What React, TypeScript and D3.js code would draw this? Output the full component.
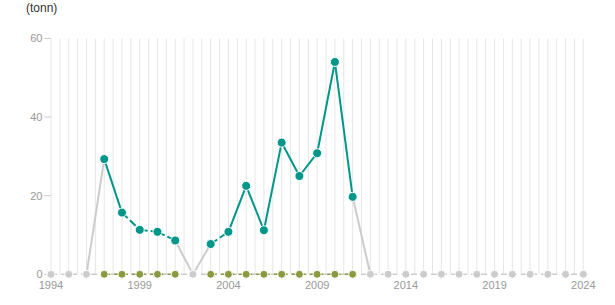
import React from "react";
import * as d3 from "d3";

const years: number[] = d3.range(1994, 2025);
// main (teal) series, null = no value (grey marker at 0)
const tealValues: (number | null)[] = [
  null, null, null, 29.3, 15.7, 11.3, 10.8, 8.6, null, 7.7,
  10.8, 22.5, 11.2, 33.5, 25.0, 30.8, 54.0, 19.7, null, null,
  null, null, null, null, null, null, null, null, null, null, null,
];
// segment i -> i+1 dashed
const dashedFrom: number[] = [1998, 1999, 2000, 2003];
// olive series at zero
const oliveValues: (number | null)[] = years.map((y, i) => (tealValues[i] !== null ? 0 : null));
const yTicks: number[] = [0, 20, 40, 60];
const xTickYears: number[] = [1994, 1999, 2004, 2009, 2014, 2019, 2024];

const W = 615, H = 305;
const TEAL = "#00968a";
const OLIVE = "#8a9a40";
const GREY = "#cccccc";

export default function App() {
  const x = d3.scaleLinear().domain([1994, 2024]).range([51, 583.3]);
  const y = d3.scaleLinear().domain([0, 60]).range([274.3, 38.4]);
  const gridYears = d3.range(1994, 2024.01, 0.5);
  const font = "'Liberation Sans', Arial, sans-serif";

  const greyConn: [number, number, number, number][] = [];
  const tealSegs: { x1: number; y1: number; x2: number; y2: number; dashed: boolean }[] = [];
  for (let i = 0; i < years.length - 1; i++) {
    const a = tealValues[i], b = tealValues[i + 1];
    if (a !== null && b !== null) {
      tealSegs.push({ x1: x(years[i]), y1: y(a), x2: x(years[i + 1]), y2: y(b), dashed: dashedFrom.includes(years[i]) });
    } else if (a !== null || b !== null) {
      greyConn.push([x(years[i]), y(a ?? 0), x(years[i + 1]), y(b ?? 0)]);
    }
  }
  const oliveSegs: [number, number][] = [];
  for (let i = 0; i < years.length - 1; i++) {
    if (oliveValues[i] !== null && oliveValues[i + 1] !== null) oliveSegs.push([x(years[i]), x(years[i + 1])]);
  }

  return (
    <div style={{ position: "absolute", left: 0, top: 0 }}>
      <svg width={W} height={H} style={{ display: "block", fontFamily: font }}>
        <rect width={W} height={H} fill="#fff" />
        <text x={26} y={12} fontSize={12} fill="#333">(tonn)</text>
        {gridYears.map((g) => (
          <line key={g} x1={x(g)} x2={x(g)} y1={38.4} y2={274.3} stroke="#e6e6e6" strokeWidth={1} />
        ))}
        {yTicks.map((t) => (
          <g key={t}>
            <line x1={44} x2={51} y1={y(t)} y2={y(t)} stroke={GREY} />
            <text x={42.5} y={y(t) + 4} fontSize={11} fill="#999" textAnchor="end">{t}</text>
          </g>
        ))}
        {xTickYears.map((t) => (
          <text key={t} x={x(t)} y={289} fontSize={11} fill="#999" textAnchor="middle">{t}</text>
        ))}
        <line x1={x(1994)} x2={x(2024)} y1={y(0)} y2={y(0)} stroke={GREY} strokeWidth={1.5} strokeDasharray="6,4" />
        {oliveSegs.map(([a, b], i) => (
          <line key={i} x1={a} x2={b} y1={y(0)} y2={y(0)} stroke={OLIVE} strokeWidth={1.5} strokeDasharray="6,4" />
        ))}
        {greyConn.map(([x1, y1, x2, y2], i) => (
          <line key={i} x1={x1} y1={y1} x2={x2} y2={y2} stroke={GREY} strokeWidth={2} />
        ))}
        {tealSegs.map((s, i) => (
          <line key={i} x1={s.x1} y1={s.y1} x2={s.x2} y2={s.y2} stroke={TEAL} strokeWidth={2} strokeDasharray={s.dashed ? "8,3" : undefined} />
        ))}
        {years.map((yr, i) => (
          <circle key={"b" + yr} cx={x(yr)} cy={y(0)} r={4} fill={oliveValues[i] !== null ? OLIVE : GREY} stroke="#fff" strokeWidth={1} />
        ))}
        {years.map((yr, i) =>
          tealValues[i] !== null ? (
            <circle key={"t" + yr} cx={x(yr)} cy={y(tealValues[i] as number)} r={4.5} fill={TEAL} stroke="#fff" strokeWidth={1} />
          ) : null
        )}
      </svg>
    </div>
  );
}
